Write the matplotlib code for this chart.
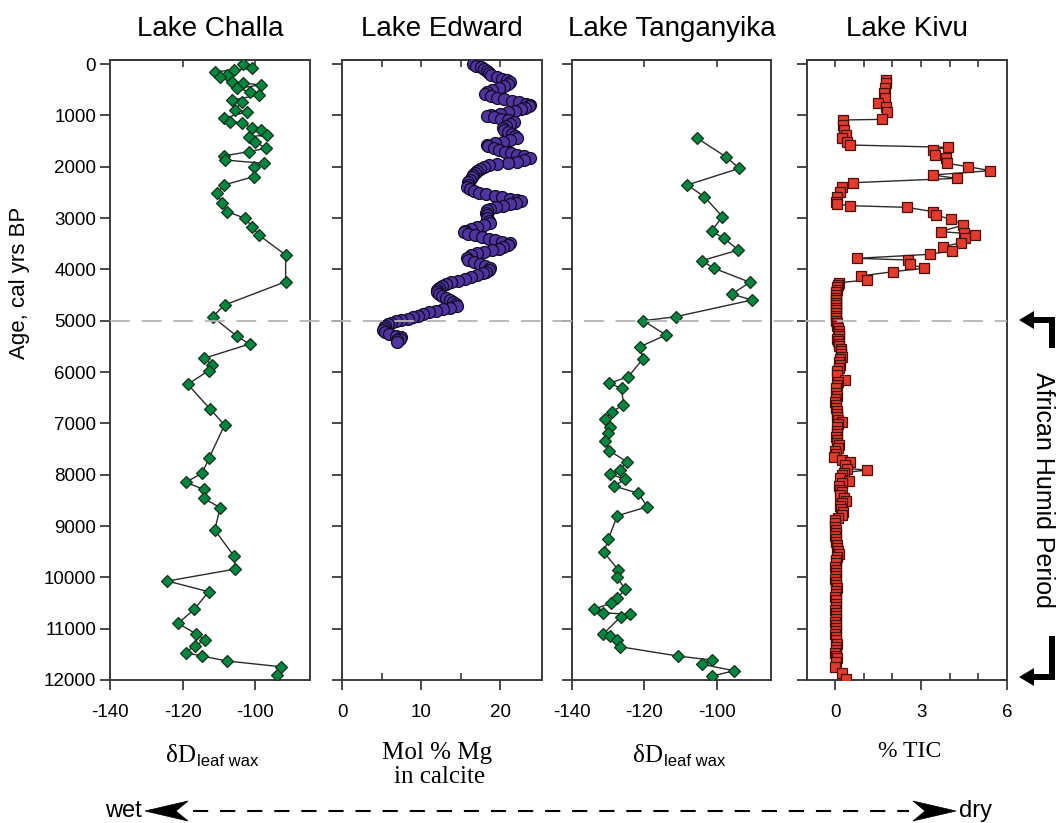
import matplotlib
matplotlib.use("Agg")
import matplotlib.pyplot as plt
import matplotlib.transforms as mtransforms
from matplotlib.patches import Polygon, Rectangle
from matplotlib.lines import Line2D
from matplotlib.ticker import MultipleLocator, FixedLocator

plt.rcParams['font.family'] = ['Liberation Sans', 'DejaVu Sans']

# ---------------- data ----------------
titles = ["Lake Challa", "Lake Edward", "Lake Tanganyika", "Lake Kivu"]

challa_age = [0, 85, 117, 150, 214, 247, 344, 370, 409, 474, 539, 604, 701, 734, 896, 929,
              1058, 1124, 1140, 1253, 1286, 1383, 1416, 1513, 1643, 1708, 1790, 1870, 1935, 2000,
              2195, 2357, 2519, 2714, 2877, 3006, 3169, 3331, 3721, 4241, 4695, 4923, 5299, 5455,
              5734, 5864, 5975, 6240, 6727, 7033, 7669, 7974, 8149, 8286, 8461, 8643, 9078, 9578,
              9838, 10072, 10280, 10623, 10896, 11104, 11221, 11332, 11468, 11533, 11630, 11741, 11903]
challa_dD = [-103.5, -100.9, -105.8, -111.0, -107.8, -109.7, -106.4, -103.3, -98.6, -105.0, -101.4,
             -99.0, -106.4, -103.7, -105.5, -102.3, -108.7, -106.9, -103.7, -100.9, -98.6, -96.8,
             -101.8, -100.0, -97.2, -101.8, -108.7, -108.5, -97.7, -100.5, -100.5, -108.7, -110.6,
             -109.2, -107.8, -102.8, -100.9, -99.1, -91.7, -91.7, -108.5, -111.8, -105.2, -101.6,
             -114.2, -111.9, -112.9, -118.6, -112.4, -108.5, -112.7, -114.7, -119.2, -114.2, -114.2,
             -109.7, -111.2, -106.0, -105.5, -124.2, -112.9, -116.8, -121.3, -116.3, -113.8, -116.7,
             -119.2, -114.7, -107.8, -93.1, -94.2]

edward_age = [0, 30, 60, 100, 140, 180, 220, 260, 290, 320, 350, 390, 430, 470, 510, 550, 580, 620,
              660, 690, 720, 745, 770, 790, 820, 850, 880, 910, 940, 965, 990, 1010, 1040, 1070, 1100,
              1130, 1170, 1210, 1250, 1290, 1330, 1370, 1410, 1450, 1480, 1510, 1540, 1570, 1600, 1640,
              1680, 1710, 1740, 1770, 1800, 1840, 1870, 1900, 1920, 1940, 1970, 2000, 2040, 2080, 2120,
              2160, 2200, 2250, 2300, 2350, 2390, 2430, 2470, 2510, 2540, 2570, 2600, 2630, 2650, 2670,
              2700, 2730, 2760, 2790, 2820, 2850, 2900, 2950, 3000, 3050, 3100, 3140, 3170, 3210, 3250,
              3280, 3310, 3340, 3370, 3400, 3430, 3460, 3490, 3520, 3560, 3600, 3630, 3660, 3690, 3730,
              3770, 3810, 3850, 3890, 3930, 3970, 4010, 4050, 4080, 4110, 4150, 4190, 4220, 4250, 4280,
              4320, 4360, 4400, 4440, 4480, 4520, 4560, 4600, 4640, 4680, 4720, 4750, 4780, 4810, 4840,
              4870, 4900, 4930, 4960, 4990, 5010, 5040, 5070, 5100, 5140, 5180, 5220, 5260, 5290, 5320,
              5350, 5380, 5410]
edward_mg = [16.6, 17.0, 17.6, 18.0, 18.3, 18.6, 18.9, 19.6, 20.3, 20.9, 21.3, 21.0, 20.5, 19.8, 19.0,
             18.4, 18.1, 18.8, 19.6, 20.5, 21.5, 22.4, 23.3, 23.8, 23.6, 23.1, 22.6, 21.9, 21.0, 20.0,
             18.8, 18.3, 19.2, 20.1, 21.0, 21.7, 21.3, 20.8, 20.4, 20.5, 21.0, 21.5, 21.9, 22.1, 21.3,
             20.4, 19.4, 18.4, 18.5, 19.2, 19.8, 20.6, 21.4, 22.2, 23.0, 23.8, 23.0, 22.1, 21.0, 19.6,
             18.6, 17.9, 17.4, 17.1, 16.8, 16.6, 16.4, 16.2, 16.0, 15.9, 15.8, 16.2, 16.7, 17.3, 18.2,
             19.3, 20.3, 21.3, 22.2, 22.7, 22.0, 21.2, 20.4, 19.5, 18.7, 18.3, 18.2, 18.3, 18.4, 18.6,
             18.7, 18.0, 17.1, 16.3, 15.6, 15.4, 16.0, 16.8, 17.7, 18.6, 19.4, 20.3, 21.3, 21.0, 20.4,
             19.8, 19.0, 18.0, 17.1, 16.3, 15.8, 16.0, 16.7, 17.4, 18.1, 18.7, 18.6, 18.2, 17.8, 17.1,
             16.3, 15.5, 14.7, 13.8, 13.2, 12.7, 12.3, 12.0, 12.0, 12.3, 12.7, 13.2, 13.6, 14.0, 14.4,
             14.5, 13.7, 12.8, 11.9, 11.0, 10.3, 9.6, 9.0, 8.3, 7.5, 6.8, 6.2, 5.8, 5.5, 5.3, 5.2, 5.4,
             6.0, 6.8, 7.5, 7.3, 7.0, 6.9]

tang_age = [1448, 1805, 2032, 2357, 2584, 2974, 3253, 3396, 3623, 3831, 3980, 4253, 4481, 4598, 4923,
            5001, 5279, 5507, 5753, 6092, 6221, 6318, 6643, 6773, 6922, 7066, 7183, 7338, 7533, 7747,
            7909, 7987, 8091, 8221, 8364, 8625, 8800, 9260, 9513, 9858, 10000, 10234, 10409, 10507,
            10618, 10690, 10721, 10766, 11110, 11143, 11221, 11351, 11533, 11611, 11695, 11820, 11923]
tang_dD = [-105.4, -97.6, -93.8, -108.2, -103.5, -98.5, -101.5, -98.1, -94.1, -104.2, -100.8, -90.9,
           -95.9, -90.4, -111.4, -120.3, -114.1, -121.2, -120.5, -124.5, -129.7, -126.3, -125.8, -129.0,
           -130.9, -129.5, -130.0, -130.9, -129.7, -124.9, -126.8, -129.5, -125.4, -128.4, -121.7,
           -119.2, -127.5, -130.0, -131.2, -127.2, -127.5, -125.4, -127.5, -129.3, -133.9, -131.5,
           -124.0, -126.5, -131.5, -129.5, -127.7, -126.8, -110.8, -101.5, -104.0, -95.3, -101.3]

kivu_age = [312, 376, 474, 571, 668, 766, 831, 929, 1078, 1091, 1188, 1286, 1383, 1448, 1513, 1578,
            1623, 1675, 1773, 1837, 1935, 2000, 2078, 2162, 2227, 2312, 2390, 2487, 2584, 2682, 2727,
            2760, 2792, 2877, 2942, 3026, 3137, 3266, 3298, 3331, 3396, 3481, 3559, 3637, 3707, 3786,
            3818, 3896, 3980, 4045, 4130, 4208, 4260,
            4300, 4350, 4400, 4450, 4500, 4550, 4600, 4650, 4700, 4750, 4800, 4850, 4900, 4950, 5000,
            5050, 5100, 5150, 5200, 5250, 5300, 5350, 5400, 5450, 5500, 5550, 5600, 5650, 5700, 5750,
            5800, 5860, 5920, 5980, 6060, 6160, 6200, 6260, 6320, 6400, 6460, 6520, 6580, 6640, 6700,
            6760, 6820, 6880, 6940, 6970, 7020, 7080, 7140, 7200, 7260, 7320, 7380, 7420, 7480, 7540,
            7600, 7660, 7720, 7760, 7820, 7880, 7910, 7960, 8010, 8060, 8120, 8170, 8230, 8290, 8340,
            8400, 8460, 8510, 8560, 8610, 8670, 8730, 8790, 8850, 8890, 8950, 9010, 9070, 9130, 9190,
            9250, 9310, 9370, 9430, 9490, 9550, 9610, 9670, 9730, 9790, 9850, 9910, 9970, 10030, 10090,
            10150, 10210, 10270, 10330, 10390, 10450, 10510, 10570, 10630, 10690, 10750, 10810, 10870,
            10930, 10990, 11050, 11110, 11170, 11230, 11290, 11350, 11410, 11470, 11530, 11580, 11650,
            11740, 11870, 11981]
kivu_tic = [1.78, 1.78, 1.74, 1.71, 1.74, 1.51, 1.78, 1.82, 1.63, 0.29, 0.27, 0.31, 0.38, 0.23, 0.41,
            0.52, 3.95, 3.40, 3.48, 3.87, 3.91, 4.64, 5.42, 3.40, 4.24, 0.64, 0.23, 0.17, 0.08, 0.03,
            0.06, 0.52, 2.50, 3.43, 3.51, 4.04, 4.47, 3.68, 4.51, 4.88, 4.53, 4.41, 3.75, 4.07, 3.31,
            0.76, 2.55, 2.61, 3.10, 2.03, 0.89, 1.10, 0.15,
            0.10, 0.07, 0.05, 0.04, 0.03, 0.02, 0.02, 0.02, 0.02, 0.02, 0.02, 0.03, 0.03, 0.04, 0.04,
            0.05, 0.06, 0.10, 0.14, 0.12, 0.12, 0.08, 0.10, 0.14, 0.15, 0.20, 0.22, 0.20, 0.23, 0.18,
            0.15, 0.17, 0.12, 0.08, 0.06, 0.35, 0.10, 0.05, 0.03, 0.02, 0.05, 0.02, 0.00, 0.02, 0.04,
            0.05, 0.08, 0.05, 0.10, 0.25, 0.10, 0.05, 0.08, 0.06, 0.03, 0.05, 0.08, 0.15, 0.10, 0.00,
            0.02, -0.03, 0.25, 0.52, 0.35, 0.40, 1.13, 0.30, 0.23, 0.18, 0.50, 0.25, 0.15, 0.18, 0.25,
            0.17, 0.30, 0.38, 0.25, 0.17, 0.22, 0.28, 0.23, 0.10, -0.02, 0.00, 0.00, 0.02, 0.02, 0.00,
            0.02, 0.03, 0.05, 0.08, 0.10, 0.12, 0.05, 0.03, 0.02, 0.00, 0.02, 0.03, 0.02, 0.00, 0.02,
            0.03, 0.05, 0.03, 0.02, 0.00, 0.02, 0.03, 0.02, 0.00, 0.02, 0.03, 0.02, 0.00, 0.02, 0.03,
            0.02, 0.00, 0.02, 0.03, 0.05, 0.03, 0.02, 0.00, 0.02, 0.06, 0.04, 0.00, 0.23, 0.38]

age_ticks = list(range(0, 12001, 1000))
challa_ticks = [-140, -120, -100]
edward_ticks = [0, 10, 20]
kivu_ticks = [0, 3, 6]

# ---------------- layout ----------------
W, H = 1060, 823
fig = plt.figure(figsize=(W / 100, H / 100), dpi=100)


def P(x, y):
    return (x / W, 1 - y / H)


def add_ax(l, t, r, b):
    return fig.add_axes([l / W, 1 - b / H, (r - l) / W, (b - t) / H])


boxes = [(110, 60, 310, 680), (342, 60, 542, 680), (572, 60, 771, 680), (807, 60, 1007, 680)]
axes = [add_ax(*b) for b in boxes]

green, green_e = '#00873f', '#16301a'
purple, purple_e = '#4e35a0', '#120a25'
red, red_e = '#e23b2e', '#4a1008'
spine_c = '#3a3a3a'

ax1, ax2, ax3, ax4 = axes
ax1.plot(challa_dD, challa_age, '-', color='#2a2a2a', lw=1.0, marker='D', ms=6.3,
         mfc=green, mec=green_e, mew=0.9, zorder=3)
ax2.plot(edward_mg, edward_age, 'o', ms=8.6, mfc=purple, mec=purple_e, mew=0.9, zorder=3)
ax3.plot(tang_dD, tang_age, '-', color='#2a2a2a', lw=1.0, marker='D', ms=6.3,
         mfc=green, mec=green_e, mew=0.9, zorder=3)
ax4.plot(kivu_tic, kivu_age, '-', color='#2a2a2a', lw=1.0, marker='s', ms=7.2,
         mfc=red, mec=red_e, mew=0.9, zorder=3)

xlims = [(-140, -85), (0, 25.3), (-140, -85.1), (-0.98, 6)]
majors = [challa_ticks, edward_ticks, challa_ticks, kivu_ticks]
minors = [[], [5, 15], [], [1, 2, 4, 5]]
tops = [[-120, -100], [5, 10, 15, 20], [-120, -100], [0, 1, 2, 3, 4, 5]]

for i, ax in enumerate(axes):
    ax.set_xlim(*xlims[i])
    ax.set_ylim(12000, -78)
    ax.set_title(titles[i], fontsize=20, pad=17)
    for s in ax.spines.values():
        s.set_color(spine_c)
        s.set_linewidth(1.4)
    ax.xaxis.set_major_locator(FixedLocator(majors[i]))
    ax.xaxis.set_minor_locator(FixedLocator(minors[i]))
    ax.set_xticklabels([str(v) for v in majors[i]])
    ax.yaxis.set_major_locator(FixedLocator(age_ticks))
    ax.tick_params(axis='x', which='major', direction='out', length=7, width=1.3,
                   color=spine_c, labelsize=13.5, pad=10)
    ax.tick_params(axis='x', which='minor', direction='in', length=5, width=1.2, color=spine_c)
    ax.tick_params(axis='y', which='major', direction='out', length=7, width=1.3,
                   color=spine_c, labelsize=13.5, pad=3, labelleft=(i == 0))
    sec = ax.secondary_xaxis('top')
    sec.set_xticks(tops[i])
    sec.tick_params(axis='x', direction='in', length=5, width=1.2, color=spine_c,
                    labeltop=False, labelbottom=False)
    sec.spines['top'].set_color(spine_c)
    sec.spines['top'].set_linewidth(1.4)

ax1.set_yticklabels([str(v) for v in age_ticks])

# y label
fig.text(*P(20, 283), "Age, cal yrs BP", rotation=90, ha='center', va='center', fontsize=16)

# dashed line at 5000 across all panels
tr = mtransforms.blended_transform_factory(fig.transFigure, ax1.transData)
fig.add_artist(Line2D([110 / W, 1007 / W], [5000, 5000], transform=tr, color='#b4b4b4',
                      lw=1.3, dashes=(11, 6.5), zorder=1))

# bottom variable labels
serif = ['Liberation Serif', 'DejaVu Serif']
fig.text(*P(196, 762), "δD", family=serif, fontsize=18, ha='right', va='baseline')
fig.text(*P(197, 766), "leaf wax", fontsize=12, ha='left', va='baseline')
fig.text(*P(663, 762), "δD", family=serif, fontsize=18, ha='right', va='baseline')
fig.text(*P(664, 766), "leaf wax", fontsize=12, ha='left', va='baseline')
fig.text(*P(437, 759), "Mol % Mg", family=serif, fontsize=18, ha='center', va='baseline')
fig.text(*P(440, 783), "in calcite", family=serif, fontsize=18, ha='center', va='baseline')
fig.text(*P(910, 757), "% TIC", family=serif, fontsize=17, ha='center', va='baseline')

# wet / dry arrow
fig.text(*P(142, 811), "wet", fontsize=17, ha='right', va='center')
fig.text(*P(959, 811), "dry", fontsize=17, ha='left', va='center')
fig.add_artist(Line2D([193 / W, 909 / W], [1 - 811 / H, 1 - 811 / H], transform=fig.transFigure,
                      color='black', lw=1.5, dashes=(7.3, 5.7)))
for pts in ([(145, 811), (188, 801), (176, 811), (188, 821)],
            [(956, 811), (913, 801), (925, 811), (913, 821)]):
    fig.add_artist(Polygon([P(*p) for p in pts], closed=True, transform=fig.transFigure,
                           facecolor='black', edgecolor='black', lw=0.5))

# African Humid Period bracket
def bracket(y_arm, y_end):
    top, bot = min(y_arm, y_end), max(y_arm, y_end)
    x0, x1 = 1049, 1055
    # vertical bar
    fig.add_artist(Rectangle(P(x0, bot), (x1 - x0) / W, (bot - top) / H,
                             transform=fig.transFigure, facecolor='black', edgecolor='none'))
    # horizontal bar
    fig.add_artist(Rectangle(P(1031, y_arm + 3), (x1 - 1031) / W, 6 / H,
                             transform=fig.transFigure, facecolor='black', edgecolor='none'))
    # arrow head
    fig.add_artist(Polygon([P(1019, y_arm), P(1034, y_arm - 9), P(1034, y_arm + 9)], closed=True,
                           transform=fig.transFigure, facecolor='black', edgecolor='none'))


bracket(320, 348)
bracket(677, 636)
fig.text(*P(1043, 490), "African Humid Period", rotation=-90, ha='center', va='center', fontsize=18)

fig.savefig("out.png", dpi=100)
